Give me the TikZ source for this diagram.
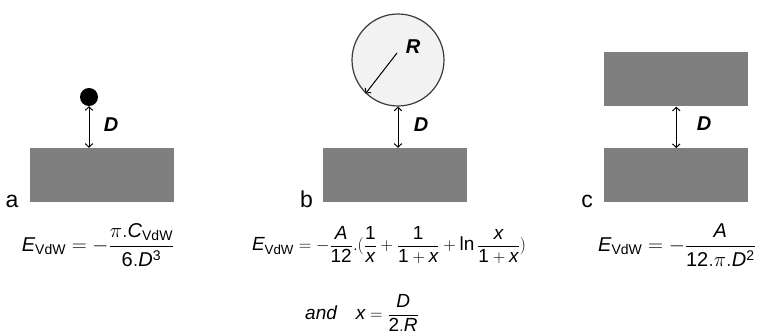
\documentclass[tikz,border=0pt]{standalone}
\usepackage{amsmath}
\usepackage{fontspec}
\setmainfont{Liberation Sans}
\usetikzlibrary{arrows.meta}
\definecolor{slabgray}{HTML}{7F7F7F}
\definecolor{ballfill}{HTML}{F2F2F2}
\definecolor{ballline}{HTML}{3A3A3A}
\newcommand\mi[1]{\mathit{#1}}
\newcommand\mn[1]{\mathrm{#1}}
\begin{document}
\begin{tikzpicture}[x=1pt,y=-1pt,
 slab/.style={fill=slabgray,draw=none,inner sep=0,minimum width=144pt,minimum height=54pt},
 gap/.style={{Straight Barb[length=3.5pt,width=7.5pt]}-{Straight Barb[length=3.5pt,width=7.5pt]},line width=1pt},
 rarrow/.style={-{Straight Barb[length=3.5pt,width=7.5pt]},line width=1pt},
 dlabel/.style={font=\fontsize{20}{22}\selectfont\bfseries\itshape,inner sep=0},
 plabel/.style={font=\fontsize{23}{25}\selectfont,inner sep=0,anchor=base},
 formula/.style={font=\fontsize{20}{23}\selectfont,inner sep=0},
 formulab/.style={font=\fontsize{19}{22}\selectfont,inner sep=0}]
\useasboundingbox (0,0) rectangle (761,336);
% panel a
\node[slab] (ra) at (102,175) {};
\node[circle,fill=black,inner sep=0,minimum size=18pt] (ball) at (89,97) {};
\draw[gap] (ball.south) -- (ball.south |- ra.north);
\node[dlabel] (da) at (111,125) {D};
\node[plabel] (la) at (12,208) {a};
\node[formula] (fa) at (98,245) {$\displaystyle \mi{E}_{\mathrm{VdW}} = -\frac{\pi.\mi{C}_{\mathrm{VdW}}}{\mn{6}.\mi{D}^{\mn{3}}}$};
% panel b
\node[slab] (rb) at (395,175) {};
\node[circle,fill=ballfill,draw=ballline,line width=1.2pt,inner sep=0,minimum size=92pt] (cb) at (398,60) {};
\coordinate (rs) at (397,53);
\draw[rarrow] (rs) -- (cb.226);
\node[dlabel] (rl) at (413,47) {R};
\draw[gap] (cb.south) -- (cb.south |- rb.north);
\node[dlabel] (db) at (421,125) {D};
\node[plabel] (lb) at (306.5,208) {b};
\node[formulab] (fb) at (389,245) {$\displaystyle \mi{E}_{\mathrm{VdW}} = -\frac{\mi{A}}{\mn{12}}.(\frac{\mn{1}}{\mi{x}}+\frac{\mn{1}}{\mn{1}+\mi{x}}+\ln\frac{\mi{x}}{\mn{1}+\mi{x}})$};
\node[formulab] (fx) at (362,313) {$\displaystyle \textit{and}\quad \mi{x} = \frac{\mi{D}}{\mn{2}.\mi{R}}$};
% panel c
\node[slab] (rc1) at (676.3,79.5) {};
\node[slab] (rc2) at (676.3,175.3) {};
\draw[gap] (rc1.south) -- (rc2.north);
\node[dlabel] (dc) at (704,124) {D};
\node[plabel] (lc) at (587,208) {c};
\node[formula] (fc) at (677,245) {$\displaystyle \mi{E}_{\mathrm{VdW}} = -\frac{\mi{A}}{\mn{12}.\pi.\mi{D}^{\mn{2}}}$};
\end{tikzpicture}
\end{document}
